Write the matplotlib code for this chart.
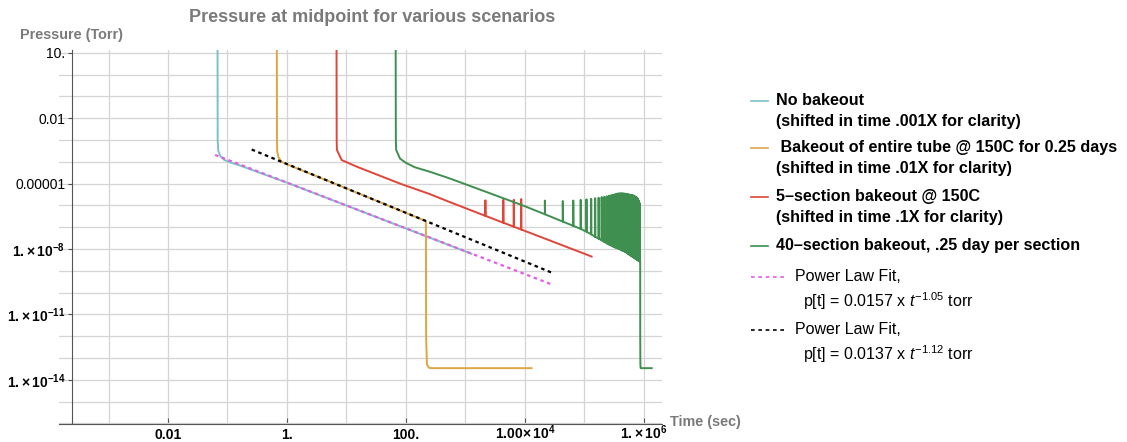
import numpy as np
import matplotlib
matplotlib.use("Agg")
import matplotlib.pyplot as plt
from matplotlib.lines import Line2D
from matplotlib.ticker import FixedLocator, NullFormatter

plt.rcParams['font.family'] = ['Liberation Sans', 'DejaVu Sans']
plt.rcParams['mathtext.fontset'] = 'custom'
plt.rcParams['mathtext.rm'] = 'Liberation Sans'
plt.rcParams['mathtext.it'] = 'Liberation Sans:italic'
plt.rcParams['mathtext.bf'] = 'Liberation Sans:bold'
plt.rcParams['mathtext.default'] = 'regular'

# --- data (time in sec as plotted, pressure in torr) ---
# no bakeout, shifted .001X
cyan_t = [0.0680, 0.0684, 0.0700, 0.0759, 0.0891, 0.112, 0.158, 1.0, 10.0, 100.0, 1260.0]
cyan_p = [30.0, 1e-3, 3.2e-4, 1.8e-4, 1.2e-4, 9.3e-5, 6.9e-5, 1.1e-5, 9.8e-7, 8.7e-8, 6.0e-9]

# bakeout of entire tube, shifted .01X
orange_t = [0.675, 0.679, 0.685, 0.72, 0.81, 1.0, 10.0, 100.0, 216.0, 218.0, 225.0, 245.0, 280.0, 12900.0]
orange_p = [30.0, 1e-3, 2.9e-4, 1.6e-4, 1.0e-4, 7.6e-5, 6.0e-6, 4.5e-7, 1.9e-7, 1e-12, 5e-14, 3.5e-14, 3.4e-14, 3.4e-14]

# 5-section bakeout, shifted .1X
red_t = [6.80, 6.84, 6.9, 8.3, 14.8, 79.0, 251.0, 550.0]
red_p = [30.0, 1e-3, 3.5e-4, 1.2e-4, 6.0e-5, 1.0e-5, 3.3e-6, 1.4e-6]
red_spike_t = [2160.0, 4320.0, 6480.0, 8640.0]
red_spike_base = [3.3e-7, 1.6e-7, 1.05e-7, 7.8e-8]
red_spike_peak = [1.7e-6, 1.8e-6, 1.8e-6, 1.95e-6]
red_end_t = [131800.0]
red_end_p = [4.5e-9]

# 40-section bakeout, .25 day per section
green_t = [67.0, 67.6, 68.4, 79.4, 100.0, 141.0, 251.0, 550.0, 9330.0]
green_p = [30.0, 1e-3, 3.5e-4, 1.4e-4, 8.9e-5, 5.6e-5, 3.5e-5, 1.7e-5, 9.8e-7]
green_spike_days = [0.25, 0.5, 0.75, 1.0, 1.25, 1.5, 1.75, 2.0, 2.25, 2.5,
                    2.75, 3.0, 3.25, 3.5, 3.75, 4.0, 4.25, 4.5, 4.75, 5.0,
                    5.25, 5.5, 5.75, 6.0, 6.25, 6.5, 6.75, 7.0, 7.25, 7.5,
                    7.75, 8.0, 8.25, 8.5, 8.75, 9.0, 9.25, 9.5, 9.75]
green_spike_base = [3.9e-7, 1.8e-7, 1.15e-7, 8.3e-8, 6.2e-8, 4.7e-8, 3.6e-8, 3.0e-8, 2.5e-8, 2.1e-8,
                    1.8e-8, 1.6e-8, 1.45e-8, 1.3e-8, 1.2e-8, 1.1e-8, 1.05e-8, 9.8e-9, 9.1e-9, 8.5e-9,
                    8.1e-9, 7.6e-9, 7.1e-9, 6.6e-9, 6.0e-9, 5.6e-9, 5.2e-9, 4.9e-9, 4.6e-9, 4.4e-9,
                    4.1e-9, 3.9e-9, 3.6e-9, 3.5e-9, 3.2e-9, 3.1e-9, 2.95e-9, 2.8e-9, 2.7e-9]
green_spike_peak = [1.66e-6, 1.58e-6, 1.66e-6, 1.78e-6, 1.9e-6, 2.0e-6, 2.14e-6, 2.24e-6, 2.4e-6, 2.5e-6,
                    2.63e-6, 2.8e-6, 2.95e-6, 3.1e-6, 3.25e-6, 3.4e-6, 3.55e-6, 3.6e-6, 3.6e-6, 3.6e-6,
                    3.55e-6, 3.45e-6, 3.4e-6, 3.3e-6, 3.25e-6, 3.15e-6, 3.1e-6, 3.0e-6, 2.95e-6, 2.9e-6,
                    2.8e-6, 2.7e-6, 2.55e-6, 2.45e-6, 2.3e-6, 2.1e-6, 1.85e-6, 1.6e-6, 1.3e-6]
green_end_t = [864000.0, 865000.0, 870000.0, 880000.0, 1.35e6]
green_end_p = [2.6e-9, 1e-12, 5e-14, 3.4e-14, 3.4e-14]

# power law fits (end points)
fit1_t = [0.062, 29500.0]
fit1_p = [2.06e-4, 2.25e-10]
fit2_t = [0.255, 29500.0]
fit2_p = [3.64e-4, 7.8e-10]

xtick_vals = [0.01, 1.0, 100.0, 1e4, 1e6]
xtick_labels = ['0.01', '1.', '100.', r'$\mathbf{1.00\!\times 10^{4}}$', r'$\mathbf{1.\!\times 10^{6}}$']
ytick_vals = [10.0, 0.01, 1e-5, 1e-8, 1e-11, 1e-14]
ytick_labels = ['10.', '0.01', '0.00001', r'$\mathbf{1.\!\times 10^{-8}}$',
                r'$\mathbf{1.\!\times 10^{-11}}$', r'$\mathbf{1.\!\times 10^{-14}}$']

c_cyan = '#7cc0c8'
c_orange = '#dca642'
c_red = '#e0453a'
c_green = '#3f8f50'
c_magenta = '#e35ee3'
gray = '#7a7a7a'


def add_spikes(ts, ps, st, sb, sp):
    ts = list(ts)
    ps = list(ps)
    for t, b, p in zip(st, sb, sp):
        ts += [t, t, t * 1.004]
        ps += [b, p, b]
    return ts, ps


rt, rp = add_spikes(red_t, red_p, red_spike_t, red_spike_base, red_spike_peak)
rt += red_end_t
rp += red_end_p
gt, gp = add_spikes(green_t, green_p, [d * 86400 for d in green_spike_days],
                    green_spike_base, green_spike_peak)
gt += green_end_t
gp += green_end_p

W, H = 1127, 442
fig = plt.figure(figsize=(W / 100, H / 100), dpi=100)
ax = fig.add_axes([59 / W, (H - 424) / H, (662 - 59) / W, (424 - 50) / H])
ax.set_xscale('log')
ax.set_yscale('log')
ax.set_xlim(10 ** -3.832, 10 ** 6.303)
ax.set_ylim(10 ** -16.03, 10 ** 1.128)

lw = 1.4
ax.plot(cyan_t, cyan_p, color=c_cyan, lw=lw, zorder=3)
ax.plot(orange_t, orange_p, color=c_orange, lw=lw, zorder=3)
ax.plot(rt, rp, color=c_red, lw=lw, zorder=3)
ax.plot(gt, gp, color=c_green, lw=lw, zorder=3)
ax.plot(fit1_t, fit1_p, color=c_magenta, lw=1.6, ls=(0, (1.6, 1.6)), zorder=4)
ax.plot(fit2_t, fit2_p, color='black', lw=1.6, ls=(0, (1.6, 1.6)), zorder=4)

ax.set_xticks(xtick_vals, xtick_labels)
ax.set_yticks(ytick_vals, ytick_labels)
# grid every decade
ax.xaxis.set_minor_locator(FixedLocator([10.0 ** k for k in range(-4, 8)]))
ax.yaxis.set_minor_locator(FixedLocator([10.0 ** k for k in range(-17, 3)]))
ax.xaxis.set_minor_formatter(NullFormatter())
ax.yaxis.set_minor_formatter(NullFormatter())
ax.grid(which='both', color='#d4d4d4', lw=0.9, zorder=0)
ax.set_axisbelow(True)

ax.tick_params(which='minor', length=0)
# x labels sit on a common baseline ~15 px under the axis
ax.tick_params(axis='x', which='major', direction='in', length=4, width=0.8, color='#555555', pad=10.6)
ax.tick_params(axis='y', which='major', direction='out', length=3, width=0.8, color='#555555', pad=2)
for lab in ax.get_xticklabels():
    lab.set_verticalalignment('baseline')
for lab in ax.get_xticklabels() + ax.get_yticklabels():
    lab.set_fontweight('bold')
    lab.set_fontsize(10)

for s in ['top', 'right']:
    ax.spines[s].set_visible(False)
ax.spines['left'].set_position(('data', 10 ** -3.61))
ax.spines['left'].set_color('#555555')
ax.spines['bottom'].set_color('#555555')
ax.spines['left'].set_linewidth(0.8)
ax.spines['bottom'].set_linewidth(0.8)


def fx(px):
    return px / W


def fy(py):
    return 1 - py / H


fig.text(fx(372), fy(18), 'Pressure at midpoint for various scenarios', color=gray,
         fontsize=13, fontweight='bold', ha='center', va='center')
fig.text(fx(20), fy(35), 'Pressure (Torr)', color=gray, fontsize=10.4,
         fontweight='bold', ha='left', va='center')
fig.text(fx(670), fy(422), 'Time (sec)', color=gray, fontsize=10.4,
         fontweight='bold', ha='left', va='center')

# legend
solid_entries = [
    (c_cyan, 100.7, ['No bakeout', '(shifted in time .001X for clarity)']),
    (c_orange, 148.0, [' Bakeout of entire tube @ 150C for 0.25 days', '(shifted in time .01X for clarity)']),
    (c_red, 196.7, ['5\u2013section bakeout @ 150C', '(shifted in time .1X for clarity)']),
    (c_green, 245.7, ['40\u2013section bakeout, .25 day per section']),
]
for col, y, lines in solid_entries:
    fig.add_artist(Line2D([fx(751), fx(768)], [fy(y), fy(y)], color=col, lw=1.2,
                          transform=fig.transFigure))
    for i, txt in enumerate(lines):
        fig.text(fx(776), fy(y + 21 * i), txt, fontsize=11.6, fontweight='bold',
                 ha='left', va='center')

dash_entries = [
    (c_magenta, 276.7, r'p[t] = 0.0157 x $\mathit{t}^{-1.05}$ torr'),
    ('black', 330.0, r'p[t] = 0.0137 x $\mathit{t}^{-1.12}$ torr'),
]
for col, y, formula in dash_entries:
    fig.add_artist(Line2D([fx(751), fx(785)], [fy(y), fy(y)], color=col, lw=1.2,
                          ls=(0, (2.2, 2.2)), transform=fig.transFigure))
    fig.text(fx(795), fy(y), 'Power Law Fit,', fontsize=11.5, ha='left', va='center')
    fig.text(fx(803), fy(y + 24), formula, fontsize=11.5, ha='left', va='center')

fig.savefig('out.png', dpi=100)
